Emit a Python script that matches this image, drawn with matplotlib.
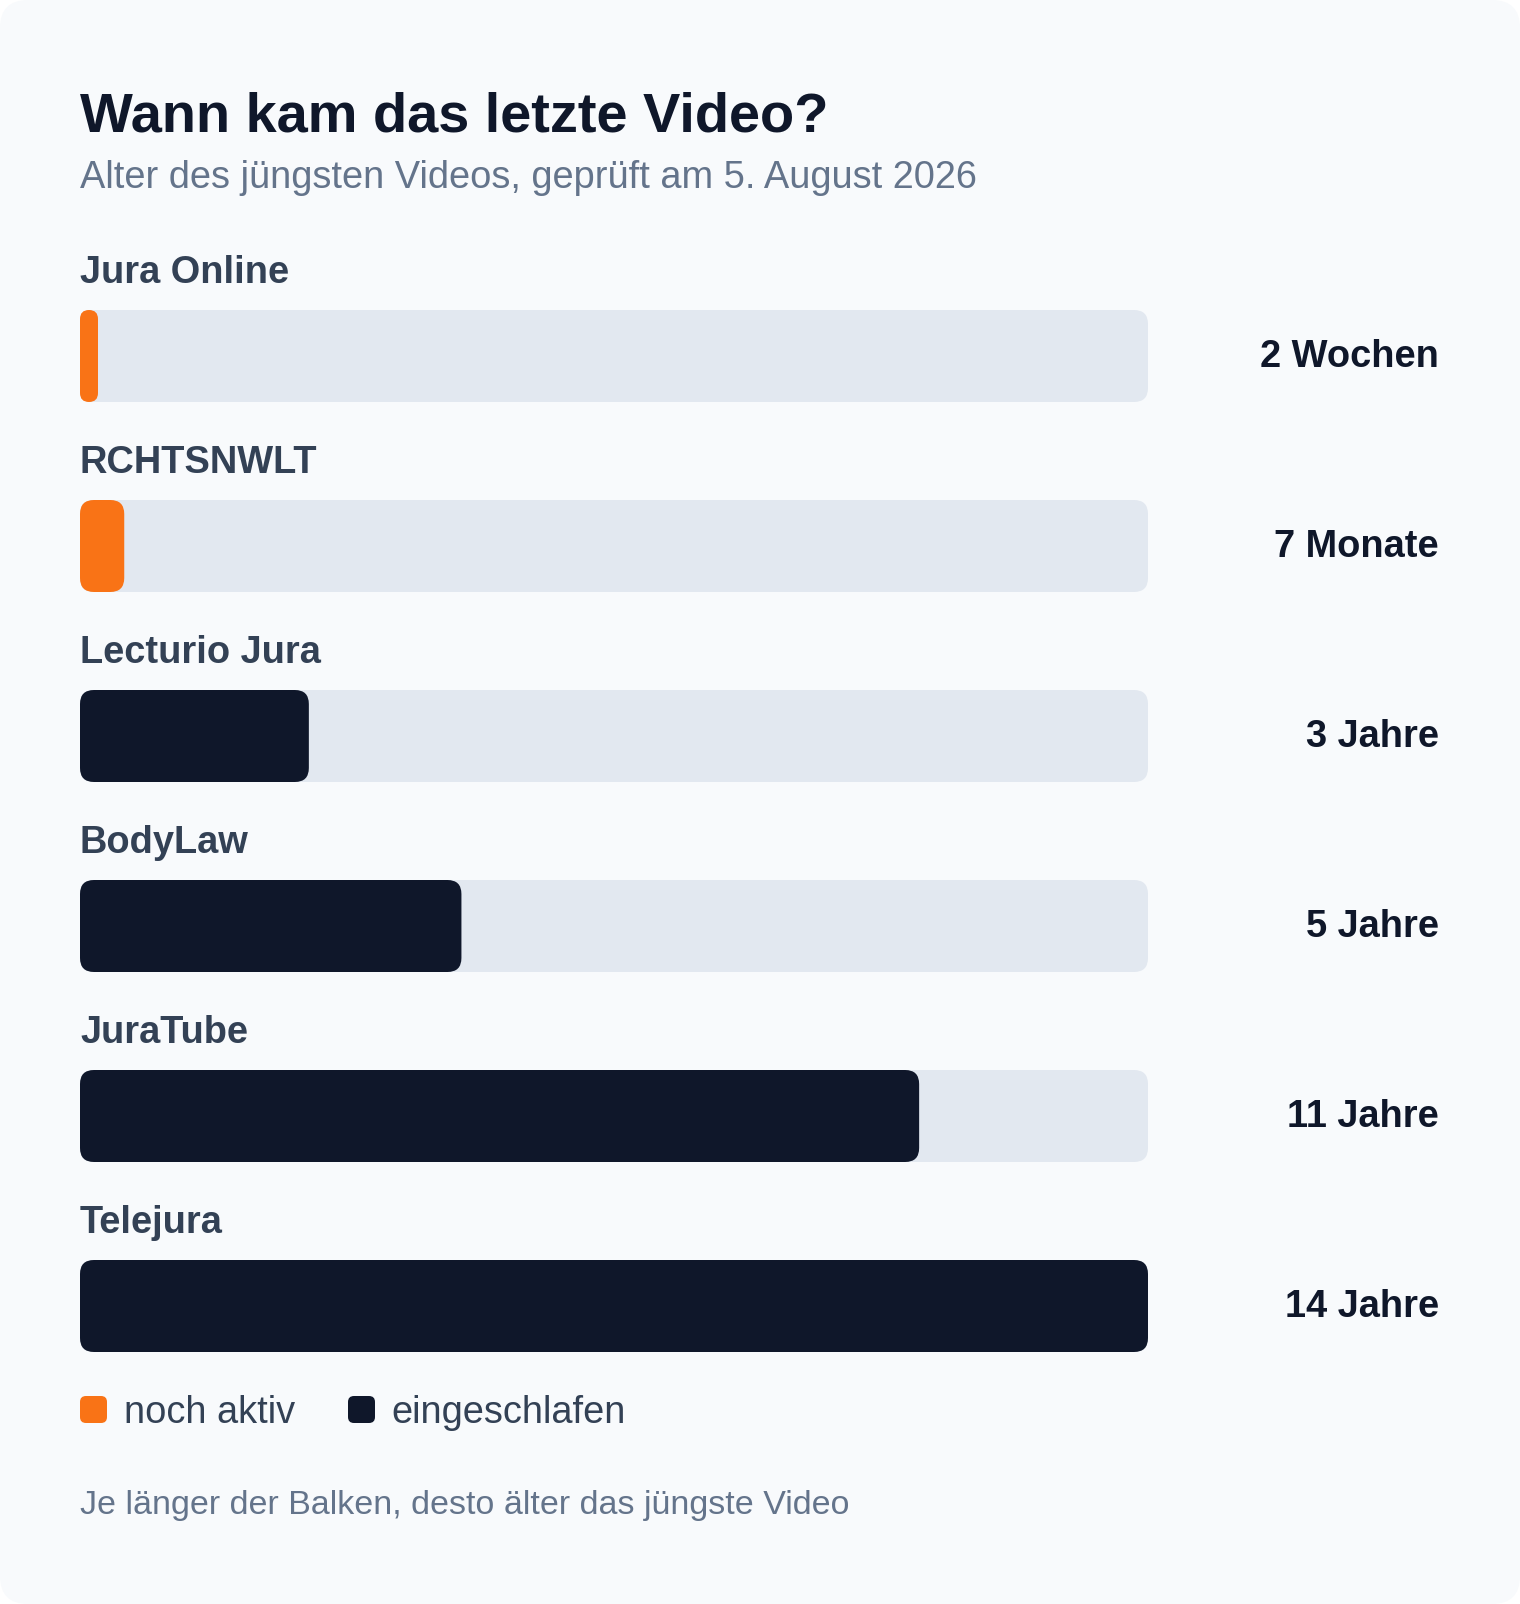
import matplotlib
matplotlib.use('Agg')
import matplotlib.pyplot as plt
from matplotlib.patches import FancyBboxPatch

plt.rcParams['font.family'] = ['Liberation Sans', 'DejaVu Sans']

# Daten
channels = ['Jura Online', 'RCHTSNWLT', 'Lecturio Jura', 'BodyLaw', 'JuraTube', 'Telejura']
age_years = [0.04, 0.58, 3, 5, 11, 14]
age_labels = ['2 Wochen', '7 Monate', '3 Jahre', '5 Jahre', '11 Jahre', '14 Jahre']
active = [True, True, False, False, False, False]
legend_labels = ['noch aktiv', 'eingeschlafen']

ORANGE = '#f97316'
DARK = '#0f172a'
TRACK = '#e2e8f0'
LABEL = '#334155'
MUTED = '#64748b'

W, H = 1520, 1604
PT = 0.72  # px -> pt bei dpi 100

fig = plt.figure(figsize=(W / 100, H / 100), dpi=100)
fig.patch.set_facecolor('white')

# Hintergrund / Karte in Pixelkoordinaten
bg = fig.add_axes([0, 0, 1, 1])
bg.set_xlim(0, W)
bg.set_ylim(H, 0)
bg.axis('off')
bg.add_patch(FancyBboxPatch((0, 0), W, H, boxstyle='round,pad=0,rounding_size=28',
                            fc='#f8fafc', ec='none'))

bg.text(80, 132, 'Wann kam das letzte Video?', fontsize=56 * PT, weight='bold',
        color=DARK, va='baseline')
bg.text(80, 188, 'Alter des jüngsten Videos, geprüft am 5. August 2026',
        fontsize=38 * PT, color=MUTED, va='baseline')

# Balkenbereich
left, right, top, bottom = 80, 1148, 310, 1352
pitch = 190
bar_h = 92 / pitch
n = len(channels)
xmax = max(age_years)
ppx = (right - left) / xmax   # Pixel pro Jahr
aspect = ppx / pitch

ax = fig.add_axes([left / W, 1 - bottom / H, (right - left) / W, (bottom - top) / H])
ax.set_xlim(0, xmax)
ax.set_ylim(n - 1 + bar_h / 2, -bar_h / 2)
ax.axis('off')

radius_px = 14
min_px = 18
for i, (name, val, lab, act) in enumerate(zip(channels, age_years, age_labels, active)):
    y0 = i - bar_h / 2
    ax.add_patch(FancyBboxPatch((0, y0), xmax, bar_h,
                                boxstyle=f'round,pad=0,rounding_size={radius_px / ppx}',
                                mutation_aspect=aspect, fc=TRACK, ec='none'))
    w = max(val, min_px / ppx)
    r = min(radius_px, w * ppx / 2) / ppx
    ax.add_patch(FancyBboxPatch((0, y0), w, bar_h,
                                boxstyle=f'round,pad=0,rounding_size={r}',
                                mutation_aspect=aspect, fc=ORANGE if act else DARK, ec='none'))
    ax.text(0, y0 - 27 / pitch, name, fontsize=38 * PT, weight='bold', color=LABEL,
            ha='left', va='baseline')
    ax.text((1439 - left) / ppx, i + 11 / pitch, lab, fontsize=38 * PT, weight='bold',
            color=DARK, ha='right', va='baseline')

# Legende
for x_sq, x_txt, col, txt in [(80, 124, ORANGE, legend_labels[0]), (348, 391, DARK, legend_labels[1])]:
    bg.add_patch(FancyBboxPatch((x_sq, 1396), 27, 27, boxstyle='round,pad=0,rounding_size=6',
                                fc=col, ec='none'))
    bg.text(x_txt, 1423, txt, fontsize=38 * PT, color=LABEL, va='baseline')

bg.text(80, 1514, 'Je länger der Balken, desto älter das jüngste Video',
        fontsize=34 * PT, color=MUTED, va='baseline')

fig.savefig('out.png', dpi=100, facecolor=fig.get_facecolor())
